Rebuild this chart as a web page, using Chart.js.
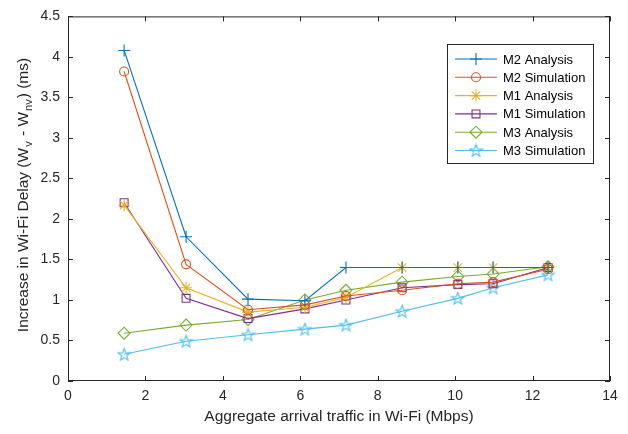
<!DOCTYPE html>
<html>
<head>
<meta charset="utf-8">
<script src="https://cdn.jsdelivr.net/npm/chart.js@4.4.0/dist/chart.umd.min.js"></script>
<style>
  html, body { margin: 0; padding: 0; background: #fff; }
  #wrap { width: 628px; height: 434px; }
</style>
</head>
<body>
<div id="wrap"><canvas id="delayChart" width="628" height="434"></canvas></div>
<script>
// data
const traffic = [1.45, 3.05, 4.65, 6.12, 7.18, 8.63, 10.07, 10.98, 12.4];
const m2Analysis   = [4.08, 1.78, 1.01, 0.99, 1.40, 1.40, 1.40, 1.40, 1.40];
const m2Simulation = [3.82, 1.44, 0.88, 0.94, 1.05, 1.12, 1.20, 1.22, 1.38];
const m1Analysis   = [2.17, 1.15, 0.85, 0.91, 1.03, 1.40, 1.40, 1.40, 1.40];
const m1Simulation = [2.20, 1.02, 0.77, 0.89, 1.00, 1.15, 1.19, 1.20, 1.40];
const m3Analysis   = [0.59, 0.69, 0.76, 1.00, 1.12, 1.22, 1.29, 1.32, 1.41];
const m3Simulation = [0.33, 0.49, 0.57, 0.64, 0.69, 0.86, 1.02, 1.15, 1.31];
const xTicks = [0, 2, 4, 6, 8, 10, 12, 14];
const yTicks = [0, 0.5, 1, 1.5, 2, 2.5, 3, 3.5, 4, 4.5];

const AXIS = "#262626";
const FONT = "'Liberation Sans', Arial, sans-serif";

// five-pointed star marker (MATLAB 'p')
function pentagram(color) {
    const c = document.createElement("canvas");
    c.width = 15; c.height = 15;
    const g = c.getContext("2d");
    g.strokeStyle = color;
    g.lineWidth = 1.1;
    g.beginPath();
    for (let i = 0; i < 10; i++) {
        const r = i % 2 === 0 ? 6.5 : 2.6;
        const a = -Math.PI / 2 + i * Math.PI / 5;
        const px = 7.5 + r * Math.cos(a), py = 8 + r * Math.sin(a);
        if (i === 0) g.moveTo(px, py); else g.lineTo(px, py);
    }
    g.closePath();
    g.stroke();
    return c;
}

function series(label, values, color, style, radius) {
    return {
        label: label,
        data: traffic.map((x, i) => ({ x: x, y: values[i] })),
        borderColor: color,
        backgroundColor: color,
        borderWidth: 1.1,
        pointStyle: style,
        pointRadius: radius,
        pointHoverRadius: radius,
        pointBorderColor: color,
        pointBackgroundColor: "rgba(0,0,0,0)",
        pointBorderWidth: 1.1,
        tension: 0
    };
}

const datasets = [
    series("M2 Analysis", m2Analysis, "#0072BD", "cross", 6),
    series("M2 Simulation", m2Simulation, "#D95319", "circle", 4.5),
    series("M1 Analysis", m1Analysis, "#EDB120", "star", 6),
    series("M1 Simulation", m1Simulation, "#7E2F8E", "rect", 5.6),
    series("M3 Analysis", m3Analysis, "#77AC30", "rectRot", 6),
    series("M3 Simulation", m3Simulation, "#4DBEEE", pentagram("#4DBEEE"), 6)
];

// box, inward ticks, legend and axis titles
const matlabLook = {
    id: "matlabLook",
    afterDraw(chart) {
        const ctx = chart.ctx;
        const a = chart.chartArea;
        const xs = chart.scales.x, ys = chart.scales.y;
        ctx.save();
        ctx.strokeStyle = AXIS;
        ctx.lineWidth = 1;
        ctx.strokeRect(a.left + 0.5, a.top + 0.5, a.right - a.left - 1, a.bottom - a.top - 1);
        ctx.beginPath();
        xTicks.forEach(v => {
            const px = Math.round(xs.getPixelForValue(v)) + 0.5;
            ctx.moveTo(px, a.bottom); ctx.lineTo(px, a.bottom - 5);
            ctx.moveTo(px, a.top); ctx.lineTo(px, a.top + 5);
        });
        yTicks.forEach(v => {
            const py = Math.round(ys.getPixelForValue(v)) + 0.5;
            ctx.moveTo(a.left, py); ctx.lineTo(a.left + 5, py);
            ctx.moveTo(a.right, py); ctx.lineTo(a.right - 5, py);
        });
        ctx.stroke();

        // legend
        const lx = 447, ly = 44, lw = 146, lh = 119;
        ctx.fillStyle = "#fff";
        ctx.fillRect(lx, ly, lw, lh);
        ctx.strokeRect(lx + 0.5, ly + 0.5, lw, lh);
        ctx.font = "13px " + FONT;
        ctx.textBaseline = "middle";
        ctx.textAlign = "left";
        chart.data.datasets.forEach((ds, i) => {
            const y = 59 + i * 18.3;
            ctx.strokeStyle = ds.borderColor;
            ctx.lineWidth = 1.1;
            ctx.beginPath();
            ctx.moveTo(455, y); ctx.lineTo(497, y);
            ctx.stroke();
            if (Chart.helpers && Chart.helpers.drawPoint) {
                ctx.fillStyle = "rgba(0,0,0,0)";
                Chart.helpers.drawPoint(ctx, {
                    pointStyle: ds.pointStyle, radius: ds.pointRadius,
                    rotation: 0, borderWidth: 1.1
                }, 476, y);
            }
            ctx.fillStyle = "#000";
            ctx.fillText(ds.label, 503, y + 1);
        });

        // x axis title
        ctx.fillStyle = AXIS;
        ctx.font = "15.5px " + FONT;
        ctx.textAlign = "center";
        ctx.fillText("Aggregate arrival traffic in Wi-Fi (Mbps)", 339, 417);

        // y axis title with subscripts
        ctx.textAlign = "left";
        ctx.translate(24, 195);
        ctx.rotate(-Math.PI / 2);
        const parts = [
            ["Increase in Wi-Fi Delay (W", false], ["v", true],
            [" - W", false], ["nv", true], [") (ms)", false]
        ];
        const big = "15.5px " + FONT, small = "11px " + FONT;
        let total = 0;
        parts.forEach(p => { ctx.font = p[1] ? small : big; total += ctx.measureText(p[0]).width + (p[1] ? 2 : 0); });
        let cx = -total / 2;
        ctx.textBaseline = "alphabetic";
        parts.forEach(p => {
            ctx.font = p[1] ? small : big;
            ctx.fillText(p[0], cx + (p[1] ? 1 : 0), p[1] ? 8 : 4);
            cx += ctx.measureText(p[0]).width + (p[1] ? 2 : 0);
        });
        ctx.restore();
    }
};

new Chart(document.getElementById("delayChart").getContext("2d"), {
    type: "line",
    data: { datasets: datasets },
    options: {
        responsive: false,
        animation: false,
        events: [],
        layout: { padding: { top: 15, right: 18, left: 0, bottom: 0 } },
        plugins: { legend: { display: false }, tooltip: { enabled: false } },
        scales: {
            x: {
                type: "linear",
                min: 0, max: 14,
                afterBuildTicks: s => { s.ticks = xTicks.map(v => ({ value: v })); },
                afterFit: s => { s.height = 53; },
                grid: { display: false, drawTicks: false },
                border: { display: false },
                ticks: { color: AXIS, font: { family: FONT, size: 14 }, padding: 7, maxRotation: 0,
                         callback: v => String(v) }
            },
            y: {
                type: "linear",
                min: 0, max: 4.5,
                afterBuildTicks: s => { s.ticks = yTicks.map(v => ({ value: v })); },
                afterFit: s => { s.width = 68; },
                grid: { display: false, drawTicks: false },
                border: { display: false },
                ticks: { color: AXIS, font: { family: FONT, size: 14 }, padding: 8,
                         callback: v => String(v) }
            }
        }
    },
    plugins: [matlabLook]
});
</script>
</body>
</html>
